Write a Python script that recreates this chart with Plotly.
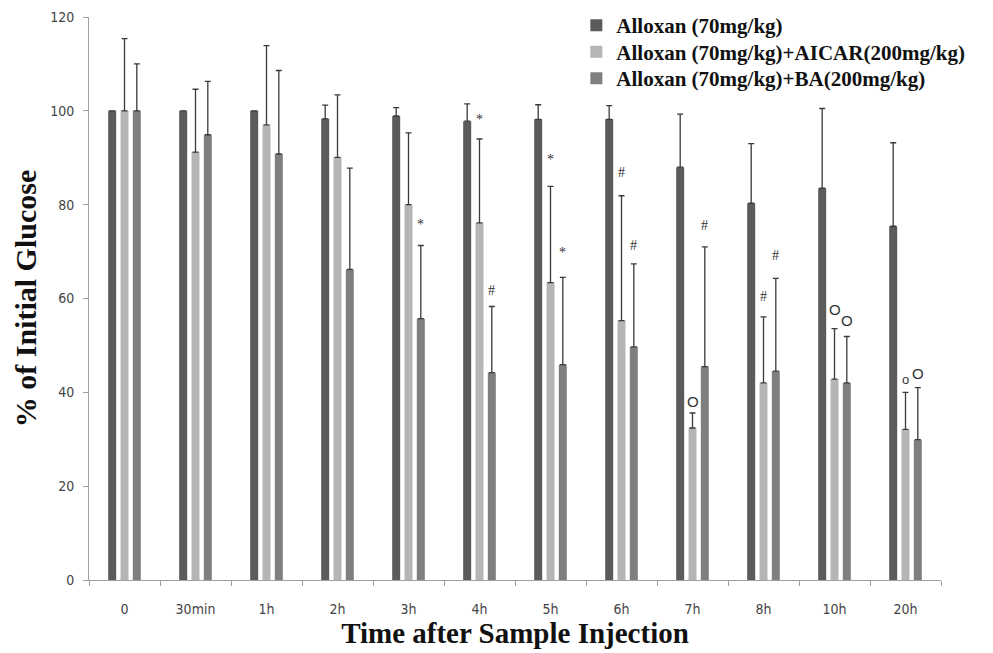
import plotly.graph_objects as go

categories = ["0", "30min", "1h", "2h", "3h", "4h", "5h", "6h", "7h", "8h", "10h", "20h"]
series_names = ["Alloxan (70mg/kg)",
                "Alloxan (70mg/kg)+AICAR(200mg/kg)",
                "Alloxan (70mg/kg)+BA(200mg/kg)"]
alloxan = [100, 100, 100, 98.3, 98.9, 97.8, 98.2, 98.2, 88.0, 80.3, 83.5, 75.4]
alloxan_err = [0, 0, 0, 2.9, 1.8, 3.7, 3.1, 2.9, 11.3, 12.7, 17.0, 17.8]
aicar = [100, 91.2, 97.0, 90.1, 80.0, 76.1, 63.4, 55.3, 32.4, 42.0, 42.8, 32.1]
aicar_err = [15.4, 13.4, 16.9, 13.3, 15.3, 17.9, 20.5, 26.6, 3.2, 14.1, 10.8, 7.9]
ba = [100, 94.9, 90.8, 66.2, 55.7, 44.2, 45.9, 49.7, 45.5, 44.5, 42.0, 29.9]
ba_err = [10.0, 11.4, 17.8, 21.6, 15.6, 14.1, 18.6, 17.7, 25.5, 19.8, 9.9, 11.1]

# significance marks: (category, series index, symbol, y value of mark)
marks = [
    ("3h", 2, "*", 75.7),
    ("4h", 1, "*", 98.2), ("4h", 2, "#", 61.8),
    ("5h", 1, "*", 89.7), ("5h", 2, "*", 69.9),
    ("6h", 1, "#", 86.8), ("6h", 2, "#", 71.3),
    ("7h", 1, "O", 38.0), ("7h", 2, "#", 75.6),
    ("8h", 1, "#", 60.4), ("8h", 2, "#", 69.2),
    ("10h", 1, "O", 57.7), ("10h", 2, "O", 55.4),
    ("20h", 1, "o", 42.7), ("20h", 2, "O", 44.0),
]

colors = ["#5b5b5b", "#b5b5b5", "#7f7f7f"]
values = [alloxan, aicar, ba]
errors = [alloxan_err, aicar_err, ba_err]
legend_ids = ["legend", "legend2", "legend3"]
legend_tops = [1.0213, 0.974, 0.927]

fig = go.Figure()
for name, vals, errs, col, lid in zip(series_names, values, errors, colors, legend_ids):
    fig.add_trace(go.Bar(
        x=categories, y=vals, name="<b>" + name + "</b>", legend=lid,
        marker=dict(color=col, line=dict(width=0)),
        error_y=dict(type="data", array=errs, arrayminus=[0] * len(errs),
                     symmetric=False, color="#3a3a3a", thickness=1.3, width=3),
    ))

slot_px = 12.3
for cat, si, sym, yv in marks:
    if sym == "*":
        fnt = dict(family="Liberation Serif", size=14, color="#333333")
    elif sym == "#":
        fnt = dict(family="Liberation Serif", size=14, color="#333333")
    elif sym == "o":
        fnt = dict(family="Liberation Sans", size=13, color="#333333")
    else:
        fnt = dict(family="Liberation Sans", size=15, color="#333333")
    fig.add_annotation(x=cat, y=yv, xref="x", yref="y", text=sym, showarrow=False,
                       xshift=(si - 1) * slot_px, yanchor="middle", font=fnt)

legend_style = dict(x=0.572, xanchor="left", yanchor="top",
                    font=dict(family="Liberation Serif", size=21, color="#111111"),
                    bgcolor="rgba(0,0,0,0)", itemsizing="constant")
legends = {}
for lid, top in zip(legend_ids, legend_tops):
    legends[lid] = dict(legend_style, y=top)

fig.update_layout(
    width=993, height=653,
    margin=dict(l=89, r=52, t=17, b=73, autoexpand=False),
    paper_bgcolor="white", plot_bgcolor="white",
    barmode="group", bargap=0.48, bargroupgap=0.35,
    showlegend=True,
    **legends,
    xaxis=dict(
        type="category", showgrid=False, showline=True, linecolor="#a0a0a0", linewidth=1,
        ticks="outside", tickson="boundaries", ticklen=5, tickcolor="#a0a0a0",
        ticklabelstandoff=16,
        tickfont=dict(family="DejaVu Sans Condensed, DejaVu Sans", size=14, color="#444444"),
        title=dict(text="<b>Time after Sample Injection</b>", standoff=6,
                   font=dict(family="Liberation Serif", size=29, color="#111111")),
    ),
    yaxis=dict(
        range=[0, 120], dtick=20, showgrid=False, showline=True, linecolor="#a0a0a0",
        linewidth=1, ticks="outside", ticklen=5, tickcolor="#a0a0a0", zeroline=False,
        ticklabelstandoff=6,
        tickfont=dict(family="DejaVu Sans Condensed, DejaVu Sans", size=14, color="#444444"),
        title=dict(text="<b>% of Initial Glucose</b>", standoff=4,
                   font=dict(family="Liberation Serif", size=30, color="#111111")),
    ),
)

fig.write_html("out.html")
